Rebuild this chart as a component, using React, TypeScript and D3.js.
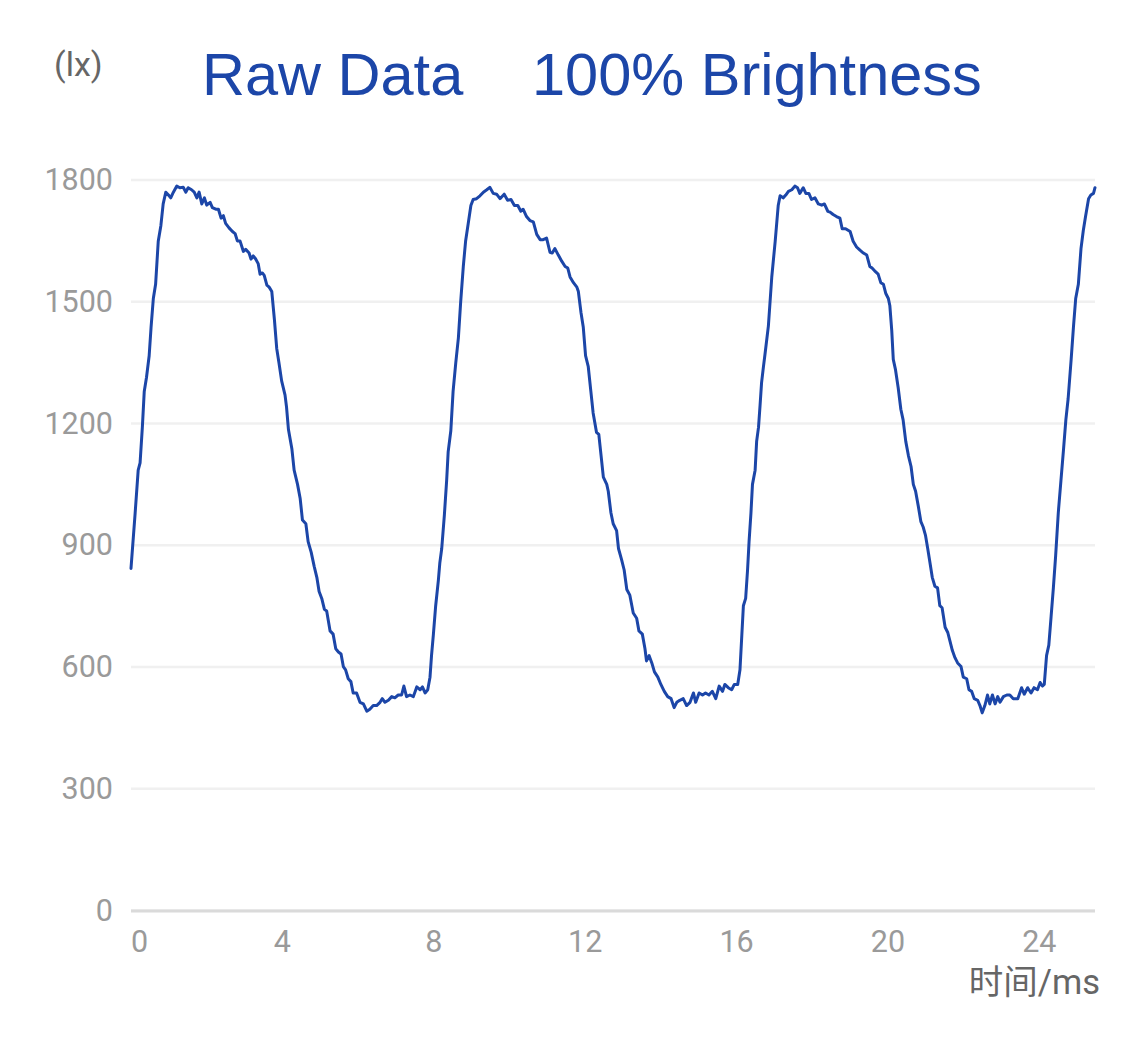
import React from "react";
import * as d3 from "d3";

const timeMs: number[] = [
  0, 0.11, 0.19, 0.24, 0.30, 0.35, 0.41, 0.48, 0.53, 0.59,
  0.65, 0.72, 0.79, 0.85, 0.92, 0.99, 1.05, 1.12, 1.21, 1.29,
  1.38, 1.45, 1.51, 1.60, 1.67, 1.74, 1.80, 1.87, 1.94, 2.00,
  2.09, 2.15, 2.24, 2.31, 2.38, 2.44, 2.50, 2.59, 2.68, 2.75,
  2.81, 2.88, 2.97, 3.03, 3.12, 3.17, 3.23, 3.29, 3.36, 3.41,
  3.47, 3.52, 3.59, 3.65, 3.72, 3.79, 3.85, 3.91, 3.98, 4.07,
  4.11, 4.16, 4.25, 4.31, 4.40, 4.47, 4.53, 4.62, 4.68, 4.76,
  4.84, 4.91, 4.97, 5.04, 5.11, 5.17, 5.26, 5.34, 5.41, 5.48,
  5.55, 5.61, 5.67, 5.74, 5.81, 5.87, 5.96, 6.05, 6.14, 6.23,
  6.31, 6.40, 6.49, 6.58, 6.64, 6.71, 6.80, 6.89, 6.97, 7.06,
  7.15, 7.21, 7.28, 7.37, 7.46, 7.55, 7.64, 7.70, 7.77, 7.84,
  7.90, 7.94, 7.99, 8.05, 8.12, 8.16, 8.21, 8.28, 8.34, 8.38,
  8.45, 8.51, 8.58, 8.65, 8.71, 8.78, 8.84, 8.91, 8.98, 9.04,
  9.13, 9.22, 9.31, 9.40, 9.48, 9.57, 9.66, 9.75, 9.86, 9.95,
  10.04, 10.13, 10.22, 10.30, 10.36, 10.45, 10.54, 10.63, 10.72, 10.81,
  10.89, 10.98, 11.07, 11.13, 11.20, 11.29, 11.38, 11.47, 11.54, 11.60,
  11.69, 11.78, 11.82, 11.89, 11.95, 12.01, 12.08, 12.15, 12.21, 12.30,
  12.36, 12.42, 12.48, 12.57, 12.61, 12.68, 12.74, 12.83, 12.88, 12.96,
  13.03, 13.10, 13.18, 13.27, 13.36, 13.42, 13.51, 13.58, 13.62, 13.69,
  13.76, 13.83, 13.92, 14.00, 14.09, 14.18, 14.27, 14.35, 14.42, 14.50,
  14.59, 14.68, 14.77, 14.86, 14.92, 15.01, 15.10, 15.18, 15.27, 15.36,
  15.45, 15.54, 15.63, 15.69, 15.78, 15.87, 15.94, 16.03, 16.09, 16.14,
  16.18, 16.24, 16.29, 16.33, 16.38, 16.42, 16.49, 16.53, 16.58, 16.62,
  16.66, 16.71, 16.75, 16.84, 16.93, 17.02, 17.10, 17.15, 17.23, 17.30,
  17.37, 17.46, 17.54, 17.61, 17.67, 17.76, 17.83, 17.91, 17.98, 18.07,
  18.16, 18.25, 18.32, 18.41, 18.47, 18.55, 18.64, 18.73, 18.79, 18.88,
  19.00, 19.08, 19.17, 19.26, 19.35, 19.44, 19.52, 19.58, 19.67, 19.74,
  19.81, 19.88, 19.94, 20.01, 20.05, 20.10, 20.14, 20.20, 20.27, 20.34,
  20.40, 20.47, 20.54, 20.61, 20.67, 20.73, 20.80, 20.87, 20.93, 20.99,
  21.05, 21.11, 21.17, 21.24, 21.31, 21.37, 21.43, 21.51, 21.58, 21.64,
  21.70, 21.77, 21.84, 21.93, 21.99, 22.08, 22.14, 22.21, 22.28, 22.37,
  22.43, 22.49, 22.56, 22.63, 22.69, 22.76, 22.83, 22.90, 22.96, 23.05,
  23.14, 23.22, 23.31, 23.43, 23.53, 23.60, 23.69, 23.78, 23.86, 23.95,
  24.02, 24.08, 24.13, 24.19, 24.25, 24.31, 24.37, 24.43, 24.50, 24.57,
  24.64, 24.70, 24.76, 24.84, 24.90, 24.96, 25.03, 25.10, 25.16, 25.22,
  25.30, 25.36, 25.43, 25.47,
];

const lux: number[] = [
  843, 980, 1085, 1103, 1191, 1279, 1314, 1367, 1437, 1508,
  1543, 1649, 1688, 1741, 1770, 1763, 1756, 1770, 1785, 1781,
  1782, 1770, 1781, 1776, 1770, 1756, 1770, 1741, 1756, 1738,
  1745, 1732, 1728, 1728, 1706, 1712, 1693, 1682, 1673, 1668,
  1650, 1650, 1624, 1629, 1620, 1605, 1613, 1606, 1594, 1568,
  1571, 1565, 1541, 1536, 1525, 1455, 1385, 1349, 1305, 1270,
  1240, 1185, 1138, 1085, 1050, 1015, 962, 953, 909, 883,
  848, 821, 786, 769, 742, 738, 689, 681, 645, 637,
  632, 601, 593, 571, 564, 536, 536, 513, 509, 491,
  496, 505, 505, 513, 522, 513, 518, 527, 524, 531,
  531, 553, 527, 531, 527, 551, 544, 551, 536, 544,
  575, 628, 681, 751, 813, 857, 892, 975, 1060, 1130,
  1182, 1279, 1349, 1411, 1499, 1587, 1649, 1693, 1737, 1752,
  1754, 1761, 1770, 1776, 1782, 1767, 1765, 1754, 1765, 1750,
  1752, 1737, 1737, 1723, 1728, 1710, 1700, 1697, 1666, 1653,
  1653, 1657, 1622, 1620, 1631, 1615, 1600, 1587, 1583, 1561,
  1547, 1536, 1525, 1473, 1437, 1367, 1341, 1279, 1226, 1178,
  1173, 1121, 1068, 1050, 1033, 980, 953, 936, 892, 865,
  839, 791, 777, 733, 720, 689, 681, 645, 615, 628,
  610, 588, 575, 557, 540, 527, 522, 500, 513, 518,
  522, 505, 513, 536, 513, 536, 531, 536, 531, 540,
  522, 553, 540, 557, 549, 544, 557, 557, 593, 681,
  751, 769, 839, 909, 980, 1050, 1085, 1156, 1191, 1244,
  1300, 1340, 1370, 1440, 1561, 1649, 1737, 1761, 1756, 1763,
  1772, 1776, 1785, 1781, 1767, 1781, 1767, 1767, 1752, 1756,
  1741, 1738, 1741, 1723, 1721, 1715, 1710, 1706, 1680, 1680,
  1673, 1649, 1635, 1627, 1620, 1615, 1587, 1583, 1574, 1568,
  1547, 1543, 1521, 1508, 1490, 1429, 1358, 1332, 1288, 1235,
  1209, 1156, 1121, 1094, 1050, 1033, 997, 958, 945, 925,
  892, 857, 821, 799, 795, 751, 746, 698, 685, 663,
  641, 623, 610, 601, 575, 571, 544, 540, 522, 518,
  505, 487, 505, 531, 509, 531, 509, 527, 513, 527,
  531, 531, 522, 522, 549, 533, 549, 536, 549, 544,
  562, 553, 557, 628, 654, 724, 795, 874, 980, 1059,
  1138, 1209, 1261, 1358, 1437, 1508, 1543, 1631, 1675, 1710,
  1754, 1763, 1767, 1781,
];

const xTicks: number[] = [0, 4, 8, 12, 16, 20, 24];
const yTicks: number[] = [0, 300, 600, 900, 1200, 1500, 1800];
const titleLeft = "Raw Data";
const titleRight = "100% Brightness";
const yAxisName = "(lx)";
const xAxisName = "时间/ms";

const W = 1125;
const H = 1040;
const plot = { left: 131, right: 1095, top: 180, bottom: 910.5 };
const BLUE = "#1c46a8";

export default function App() {
  const x = d3.scaleLinear().domain([0, 25.47]).range([plot.left, plot.right]);
  const y = d3.scaleLinear().domain([0, 1800]).range([plot.bottom, plot.top]);
  const pts: [number, number][] = timeMs.map((t, i) => [t, lux[i]]);
  const line = d3
    .line<[number, number]>()
    .x((d) => x(d[0]))
    .y((d) => y(d[1]));

  const tickFont = "Roboto, 'Liberation Sans', sans-serif";

  return (
    <div style={{ position: "absolute", left: 0, top: 0 }}>
      <svg width={W} height={H} style={{ display: "block", background: "#fff" }}>
        <rect x={0} y={0} width={W} height={H} fill="#fff" />
        {yTicks.map((v) => (
          <line
            key={"g" + v}
            x1={plot.left}
            x2={plot.right}
            y1={y(v)}
            y2={y(v)}
            stroke="#f0f0f0"
            strokeWidth={2.5}
          />
        ))}
        <line
          x1={plot.left}
          x2={plot.right}
          y1={y(0) + 0.5}
          y2={y(0) + 0.5}
          stroke="#dadada"
          strokeWidth={3}
        />
        {yTicks.map((v) => (
          <text
            key={"yl" + v}
            x={113}
            y={y(v) + 10}
            textAnchor="end"
            fontFamily={tickFont}
            fontSize={30.5}
            fill="#9a9a9a"
          >
            {v}
          </text>
        ))}
        {xTicks.map((v, i) => (
          <text
            key={"xl" + v}
            x={x(v)}
            y={952}
            textAnchor={i === 0 ? "start" : "middle"}
            fontFamily={tickFont}
            fontSize={30.5}
            fill="#9a9a9a"
          >
            {v}
          </text>
        ))}
        <path
          d={line(pts) || ""}
          fill="none"
          stroke={BLUE}
          strokeWidth={3}
          strokeLinejoin="round"
          strokeLinecap="round"
        />
        <text x={54} y={76} fontFamily={tickFont} fontSize={34} fill="#666">
          {yAxisName}
        </text>
        <text
          x={1100}
          y={994}
          textAnchor="end"
          fontFamily="Roboto, 'Noto Sans CJK SC', sans-serif"
          fontSize={34.5}
          fill="#666"
        >
          {xAxisName}
        </text>
        <text
          x={202}
          y={95}
          fontFamily="'Liberation Sans', Arial, sans-serif"
          fontSize={59.5}
          fill={BLUE}
        >
          {titleLeft}
        </text>
        <text
          x={532}
          y={95}
          fontFamily="'Liberation Sans', Arial, sans-serif"
          fontSize={59.5}
          fill={BLUE}
        >
          {titleRight}
        </text>
      </svg>
    </div>
  );
}
